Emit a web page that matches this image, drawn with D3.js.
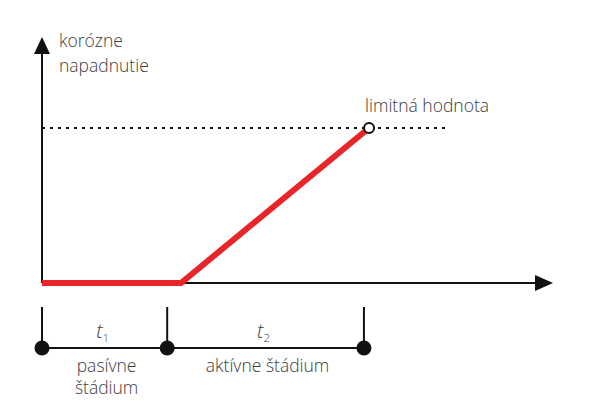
<!DOCTYPE html>
<html>
<head>
<meta charset="utf-8">
<script src="https://cdn.jsdelivr.net/npm/d3@7/dist/d3.min.js"></script>
<style>
  html, body { margin: 0; padding: 0; background: #fff; }
  svg text { font-family: "Open Sans", "Noto Sans", sans-serif; font-weight: 300; fill: #3c3c3c; }
</style>
</head>
<body>
<svg id="chart" width="600" height="418"></svg>
<script>
// Time axis extent and corrosion-level axis extent (arbitrary units)
const timeDomain = [0, 10];
const levelDomain = [0, 10];

// Corrosion damage over time: passive phase, then linear growth to the limit
const corrosionTime = [0, 2.72, 6.4];
const corrosionLevel = [0, 0, 6.3];
const limitValue = 6.3;
const limitLineEnd = 7.9;

// Phase boundaries on the time scale and their labels
const phaseBounds = [0, 2.45, 6.3];
const phaseSymbols = ["t", "t"];
const phaseIndices = ["1", "2"];
const phaseNames = [["pasívne", "štádium"], ["aktívne štádium"]];

const axisTitle = ["korózne", "napadnutie"];
const limitLabel = "limitná hodnota";

const svg = d3.select("#chart");

const x = d3.scaleLinear().domain(timeDomain).range([42, 553]);
const y = d3.scaleLinear().domain(levelDomain).range([283, 37]);

const ink = "#111";
const fs = 17.5;

// Axes with arrowheads
svg.append("line")
  .attr("x1", x(0)).attr("x2", x(0))
  .attr("y1", y(0)).attr("y2", y(levelDomain[1]) + 12)
  .attr("stroke", ink).attr("stroke-width", 2);
svg.append("path")
  .attr("d", `M${x(0)},${y(levelDomain[1])} L${x(0) - 8},${y(levelDomain[1]) + 17} L${x(0) + 8},${y(levelDomain[1]) + 17} Z`)
  .attr("fill", ink);

svg.append("line")
  .attr("x1", x(0)).attr("x2", x(timeDomain[1]) - 12)
  .attr("y1", y(0)).attr("y2", y(0))
  .attr("stroke", ink).attr("stroke-width", 2);
svg.append("path")
  .attr("d", `M${x(timeDomain[1])},${y(0)} L${x(timeDomain[1]) - 18},${y(0) - 8} L${x(timeDomain[1]) - 18},${y(0) + 8} Z`)
  .attr("fill", ink);

// Dotted limit line
svg.append("line")
  .attr("x1", x(0)).attr("x2", x(limitLineEnd))
  .attr("y1", y(limitValue)).attr("y2", y(limitValue))
  .attr("stroke", ink).attr("stroke-width", 2)
  .attr("stroke-dasharray", "3,5");

// Corrosion curve
const pts = corrosionTime.map((t, i) => [t, corrosionLevel[i]]);
svg.append("path")
  .datum(pts)
  .attr("d", d3.line().x(d => x(d[0])).y(d => y(d[1])))
  .attr("fill", "none")
  .attr("stroke", "#e8262a")
  .attr("stroke-width", 6)
  .attr("stroke-linejoin", "miter");

// Limit marker
const last = pts[pts.length - 1];
svg.append("circle")
  .attr("cx", x(last[0])).attr("cy", y(last[1]))
  .attr("r", 5)
  .attr("fill", "#fff").attr("stroke", ink).attr("stroke-width", 2);

svg.append("text")
  .attr("x", x(last[0]) - 4).attr("y", y(limitValue) - 16)
  .attr("font-size", fs)
  .text(limitLabel);

// Axis title
const title = svg.append("text")
  .attr("font-size", fs);
axisTitle.forEach((s, i) => {
  title.append("tspan").attr("x", x(0) + 17).attr("y", 47 + i * 25).text(s);
});

// Phase timeline below the axis
const lineY = 348;
svg.append("line")
  .attr("x1", x(phaseBounds[0])).attr("x2", x(phaseBounds[phaseBounds.length - 1]))
  .attr("y1", lineY).attr("y2", lineY)
  .attr("stroke", ink).attr("stroke-width", 2);

svg.selectAll(".tick")
  .data(phaseBounds)
  .join("line")
  .attr("class", "tick")
  .attr("x1", d => x(d)).attr("x2", d => x(d))
  .attr("y1", 307).attr("y2", lineY)
  .attr("stroke", ink).attr("stroke-width", 2);

svg.selectAll(".dot")
  .data(phaseBounds)
  .join("circle")
  .attr("class", "dot")
  .attr("cx", d => x(d)).attr("cy", lineY)
  .attr("r", 7.5)
  .attr("fill", ink);

const phases = d3.range(phaseSymbols.length).map(i => ({
  mid: (x(phaseBounds[i]) + x(phaseBounds[i + 1])) / 2,
  sym: phaseSymbols[i],
  idx: phaseIndices[i],
  name: phaseNames[i]
}));

phases.forEach(p => {
  const t = svg.append("text")
    .attr("x", p.mid - 2).attr("y", 338)
    .attr("text-anchor", "middle")
    .attr("font-size", 20);
  t.append("tspan").attr("font-style", "italic").text(p.sym);
  t.append("tspan").attr("font-size", 11.5).attr("dy", 4).text(p.idx);

  const n = svg.append("text")
    .attr("text-anchor", "middle")
    .attr("font-size", fs);
  p.name.forEach((s, i) => {
    n.append("tspan").attr("x", p.mid + 2).attr("y", 372 + i * 22).text(s);
  });
});
</script>
</body>
</html>
